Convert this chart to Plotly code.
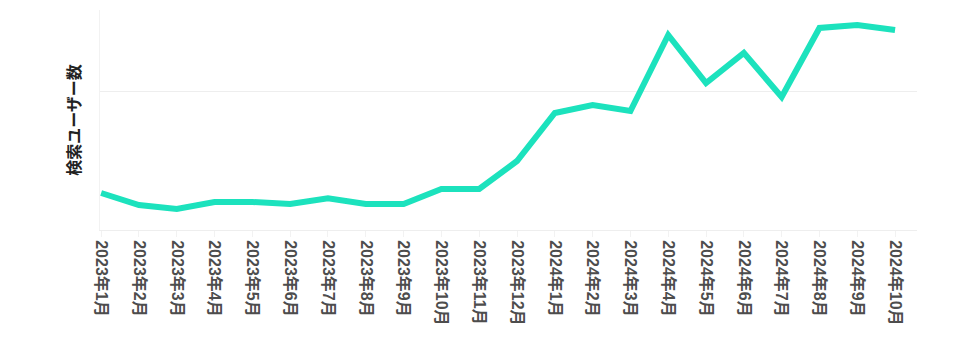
import plotly.graph_objects as go

months = ["2023年1月", "2023年2月", "2023年3月", "2023年4月", "2023年5月", "2023年6月",
          "2023年7月", "2023年8月", "2023年9月", "2023年10月", "2023年11月", "2023年12月",
          "2024年1月", "2024年2月", "2024年3月", "2024年4月", "2024年5月", "2024年6月",
          "2024年7月", "2024年8月", "2024年9月", "2024年10月"]
users = [26.8, 18.1, 15.2, 20.3, 20.3, 18.8, 23.0, 18.8, 18.8, 29.7, 29.7, 50.0,
         84.8, 90.6, 86.2, 141.3, 106.5, 128.3, 96.4, 146.4, 148.6, 144.9]
y_title = "検索ユーザー数"

fig = go.Figure(go.Scatter(
    x=list(range(len(months))), y=users, mode="lines",
    line=dict(color="#1ce2bd", width=6), hoverinfo="skip"))

font_family = "Liberation Sans, Noto Sans CJK JP, sans-serif"
fig.update_layout(
    width=969, height=351,
    margin=dict(l=100, r=52, t=10, b=121),
    plot_bgcolor="white", paper_bgcolor="white",
    showlegend=False,
    font=dict(family=font_family),
    xaxis=dict(
        tickmode="array", tickvals=list(range(len(months))), ticktext=months,
        tickangle=90, tickfont=dict(size=16, color="#4d4d4d", weight="bold"),
        range=[-0.03, 21.58], showgrid=False, zeroline=False,
        showline=True, linecolor="#eeeeee", linewidth=1,
        ticks="outside", ticklen=6, tickcolor="#f2f2f2",
    ),
    yaxis=dict(
        range=[0, 159.4], dtick=100, showticklabels=False,
        showgrid=True, gridcolor="#eeeeee", gridwidth=1, zeroline=False,
        showline=True, linecolor="#f2f2f2", linewidth=1,
        title=dict(text=y_title, standoff=14,
                   font=dict(size=16, color="#222222",
                             family="Noto Sans CJK JP, sans-serif", weight="bold")),
    ),
)
fig.write_html("out.html")
